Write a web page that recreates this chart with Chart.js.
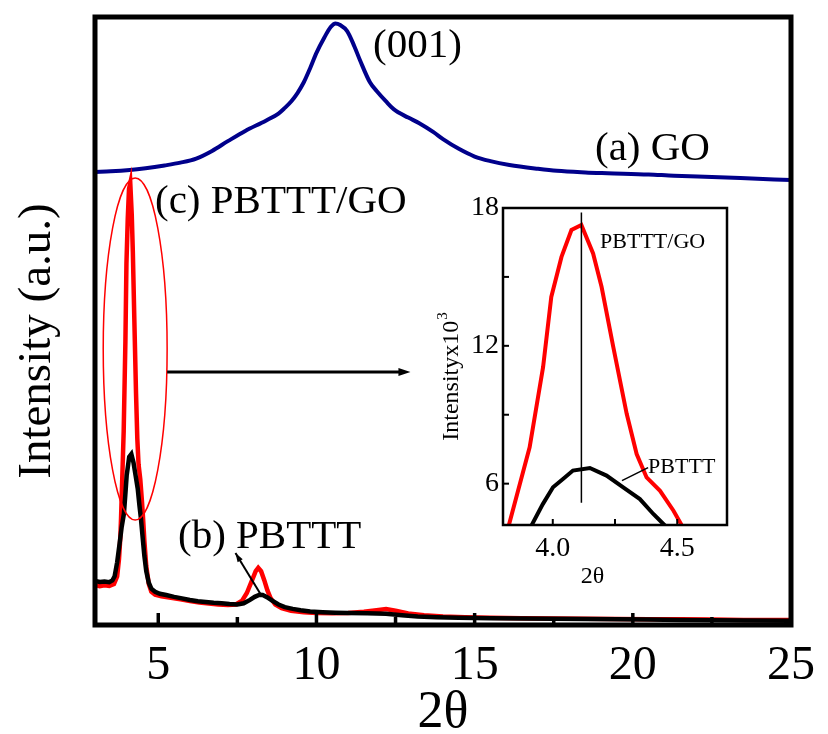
<!DOCTYPE html>
<html>
<head>
<meta charset="utf-8">
<script src="https://cdn.jsdelivr.net/npm/chart.js@4.4.0/dist/chart.umd.min.js"></script>
<style>
  html, body { margin: 0; padding: 0; background: #fff; }
  #wrap { position: relative; width: 828px; height: 734px; }
  #xrd { position: absolute; left: 0; top: 0; }
  #zoom { position: absolute; left: 420px; top: 180px; }
</style>
</head>
<body>
<div id="wrap">
  <canvas id="xrd" width="828" height="734"></canvas>
  <canvas id="zoom" width="320" height="420"></canvas>
</div>
<script>
// XRD patterns, intensity in counts x10^3 (GO trace is stacked above the others)
const goTheta = [3.0, 3.5, 4.1, 4.6, 5.2, 5.7, 6.2, 6.7, 7.2, 7.75, 8.4, 8.8, 9.0, 9.2, 9.4, 9.6, 9.8, 10.0, 10.25, 10.45, 10.6, 10.75, 10.97, 11.2, 11.38, 11.69, 11.91, 12.2, 12.44, 12.9, 13.25, 13.7, 14.0, 14.5, 15.0, 15.5, 16.1, 17.0, 17.6, 18.5, 19.2, 20.5, 21.3, 22.5, 23.4, 25.0];
const goIntensity = [17.70, 17.72, 17.77, 17.84, 17.95, 18.06, 18.22, 18.52, 18.9, 19.3, 19.7, 19.98, 20.2, 20.45, 20.78, 21.2, 21.75, 22.35, 22.95, 23.36, 23.5, 23.44, 23.2, 22.6, 22.05, 21.2, 20.85, 20.45, 20.15, 19.82, 19.6, 19.25, 18.98, 18.6, 18.3, 18.12, 17.97, 17.82, 17.74, 17.68, 17.65, 17.6, 17.55, 17.5, 17.46, 17.38];

const pbtttTheta = [3.0, 3.15, 3.3, 3.45, 3.55, 3.62, 3.7, 3.78, 3.84, 3.914, 3.96, 4.001, 4.041, 4.081, 4.149, 4.216, 4.283, 4.35, 4.404, 4.451, 4.5, 4.56, 4.62, 4.7, 4.78, 4.9, 5.05, 5.25, 5.5, 5.75, 6.0, 6.25, 6.5, 6.75, 7.0, 7.25, 7.5, 7.7, 7.9, 8.05, 8.2, 8.3, 8.45, 8.6, 8.8, 9.0, 9.25, 9.5, 9.8, 10.2, 10.6, 11.0, 11.6, 12.2, 12.7, 13.2, 13.8, 14.5, 15.5, 16.5, 17.5, 18.5, 19.5, 20.5, 21.5, 22.5, 23.5, 25.0];
const pbtttIntensity = [1.72, 1.68, 1.70, 1.67, 1.74, 1.9, 2.45, 3.2, 3.8, 4.35, 5.11, 5.84, 6.2, 6.57, 6.68, 6.35, 5.84, 5.33, 4.68, 4.17, 3.5, 2.7, 2.1, 1.65, 1.42, 1.3, 1.22, 1.17, 1.1, 1.04, 0.98, 0.93, 0.9, 0.87, 0.85, 0.82, 0.8, 0.85, 0.98, 1.1, 1.18, 1.17, 1.08, 0.95, 0.8, 0.7, 0.63, 0.58, 0.53, 0.5, 0.48, 0.47, 0.46, 0.44, 0.38, 0.33, 0.3, 0.28, 0.26, 0.25, 0.24, 0.23, 0.22, 0.21, 0.2, 0.19, 0.18, 0.17];

const compTheta = [3.0, 3.15, 3.3, 3.45, 3.6, 3.7, 3.76, 3.8, 3.823, 3.907, 3.961, 3.994, 4.035, 4.075, 4.115, 4.162, 4.196, 4.243, 4.297, 4.337, 4.377, 4.431, 4.485, 4.519, 4.56, 4.62, 4.7, 4.78, 4.9, 5.1, 5.4, 5.7, 6.0, 6.3, 6.6, 6.9, 7.2, 7.45, 7.65, 7.8, 7.95, 8.08, 8.16, 8.25, 8.35, 8.45, 8.55, 8.7, 8.9, 9.2, 9.6, 10.0, 10.5, 11.0, 11.5, 11.9, 12.2, 12.5, 12.9, 13.4, 14.0, 14.7, 15.5, 16.5, 17.5, 18.5, 19.5, 20.5, 21.5, 22.5, 23.5, 25.0];
const compIntensity = [1.56, 1.52, 1.55, 1.53, 1.6, 1.9, 2.6, 3.4, 4.17, 7.58, 11.07, 14.13, 15.87, 17.04, 17.26, 16.02, 14.57, 11.95, 9.04, 7.29, 6.27, 5.69, 4.82, 4.17, 3.3, 2.3, 1.6, 1.3, 1.18, 1.12, 1.06, 1.0, 0.94, 0.88, 0.84, 0.8, 0.78, 0.8, 0.95, 1.25, 1.7, 2.1, 2.23, 2.1, 1.75, 1.35, 1.05, 0.8, 0.66, 0.56, 0.5, 0.47, 0.46, 0.47, 0.52, 0.58, 0.62, 0.56, 0.45, 0.38, 0.33, 0.3, 0.28, 0.26, 0.25, 0.24, 0.23, 0.22, 0.22, 0.21, 0.2, 0.2];

const xTicks = [5, 10, 15, 20, 25];
const xMinorTicks = [7.5, 12.5, 17.5, 22.5];

// zoom on the low-angle reflection
const zoomCompTheta = [3.8, 3.823, 3.907, 3.961, 3.994, 4.035, 4.075, 4.115, 4.162, 4.196, 4.243, 4.297, 4.337, 4.377, 4.431, 4.485, 4.519, 4.54];
const zoomCompIntensity = [3.3, 4.17, 7.58, 11.07, 14.13, 15.87, 17.04, 17.26, 16.02, 14.57, 11.95, 9.04, 7.29, 6.27, 5.69, 4.82, 4.17, 3.7];
const zoomPbtttTheta = [3.89, 3.914, 3.96, 4.001, 4.041, 4.081, 4.149, 4.216, 4.283, 4.35, 4.404, 4.451, 4.47];
const zoomPbtttIntensity = [3.7, 4.17, 5.11, 5.84, 6.2, 6.57, 6.68, 6.35, 5.84, 5.33, 4.68, 4.17, 3.9];
const zoomXTicks = [4.0, 4.5];
const zoomXMinor = [4.25];
const zoomYTicks = [6, 12, 18];
const zoomYMinor = [9, 15];
const peakTheta = 4.115;

const SERIF = '"Liberation Serif", "Times New Roman", serif';
const pts = (xs, ys) => xs.map((x, i) => ({ x: x, y: ys[i] }));

function arrowHead(ctx, x0, y0, x1, y1, len, half) {
  const a = Math.atan2(y1 - y0, x1 - x0);
  ctx.beginPath();
  ctx.moveTo(x1, y1);
  ctx.lineTo(x1 - len * Math.cos(a) + half * Math.sin(a), y1 - len * Math.sin(a) - half * Math.cos(a));
  ctx.lineTo(x1 - len * Math.cos(a) - half * Math.sin(a), y1 - len * Math.sin(a) + half * Math.cos(a));
  ctx.closePath();
  ctx.fill();
}

const mainDecor = {
  id: 'mainDecor',
  afterDatasetsDraw(chart) {
    const { ctx, chartArea: a, scales: { x, y } } = chart;
    ctx.save();
    ctx.strokeStyle = '#000';
    ctx.fillStyle = '#000';

    // frame
    ctx.lineWidth = 5;
    ctx.strokeRect(a.left, a.top, a.right - a.left, a.bottom - a.top);

    // inward ticks on the 2θ axis
    ctx.lineWidth = 3.5;
    const tick = (v, len) => {
      const px = x.getPixelForValue(v);
      ctx.beginPath();
      ctx.moveTo(px, a.bottom);
      ctx.lineTo(px, a.bottom - len);
      ctx.stroke();
    };
    xTicks.forEach(v => tick(v, 12));
    xMinorTicks.forEach(v => tick(v, 8));

    // ellipse around the PBTTT/GO peak
    const cx = x.getPixelForValue(4.27);
    const rx = x.getPixelForValue(5.28) - cx;
    const cy = y.getPixelForValue(10.78);
    const ry = y.getPixelForValue(4.1) - cy;
    ctx.strokeStyle = '#f00';
    ctx.lineWidth = 1.5;
    ctx.beginPath();
    ctx.ellipse(cx, cy, rx, ry, 0, 0, Math.PI * 2);
    ctx.stroke();

    // arrow pointing to the zoom panel
    ctx.strokeStyle = '#000';
    ctx.lineWidth = 3;
    const ax0 = x.getPixelForValue(5.28), ax1 = x.getPixelForValue(12.97), ay = y.getPixelForValue(9.88);
    ctx.beginPath();
    ctx.moveTo(ax0, ay);
    ctx.lineTo(ax1 - 8, ay);
    ctx.stroke();
    arrowHead(ctx, ax0, ay, ax1, ay, 12, 4);

    // pointer for the PBTTT trace
    const px0 = x.getPixelForValue(8.25), py0 = y.getPixelForValue(1.17);
    const px1 = x.getPixelForValue(7.44), py1 = y.getPixelForValue(2.81);
    ctx.lineWidth = 2;
    ctx.beginPath();
    ctx.moveTo(px0, py0);
    ctx.lineTo(px1, py1);
    ctx.stroke();
    arrowHead(ctx, px0, py0, px1, py1, 9, 3);

    // labels
    ctx.font = '41px ' + SERIF;
    ctx.textAlign = 'left';
    ctx.textBaseline = 'alphabetic';
    ctx.fillText('(001)', 373, 57);
    ctx.fillText('(a) GO', 595, 160);
    ctx.fillText('(c) PBTTT/GO', 155, 213);
    ctx.fillText('(b) PBTTT', 178, 548);

    // y axis title
    ctx.save();
    ctx.translate(38, 341);
    ctx.rotate(-Math.PI / 2);
    ctx.font = '47px ' + SERIF;
    ctx.textAlign = 'center';
    ctx.textBaseline = 'middle';
    ctx.fillText('Intensity (a.u.)', 0, 0);
    ctx.restore();

    ctx.restore();
  }
};

new Chart(document.getElementById('xrd'), {
  type: 'line',
  data: {
    datasets: [
      { label: '(b) PBTTT', data: pts(pbtttTheta, pbtttIntensity), borderColor: '#000', borderWidth: 4.5, pointRadius: 0, tension: 0 },
      { label: '(c) PBTTT/GO', data: pts(compTheta, compIntensity), borderColor: '#f00', borderWidth: 4.5, pointRadius: 0, tension: 0 },
      { label: '(a) GO', data: pts(goTheta, goIntensity), borderColor: '#00008b', borderWidth: 4, pointRadius: 0, cubicInterpolationMode: 'monotone' }
    ]
  },
  options: {
    responsive: false,
    animation: false,
    events: [],
    layout: { padding: { top: 17, right: 28, left: 0, bottom: 0 } },
    plugins: { legend: { display: false }, tooltip: { enabled: false } },
    scales: {
      x: {
        type: 'linear', min: 3, max: 25,
        afterBuildTicks: s => { s.ticks = xTicks.map(v => ({ value: v })); },
        afterFit: s => { s.height = 109; },
        grid: { display: false, drawTicks: false },
        border: { display: false },
        ticks: { font: { family: SERIF, size: 48 }, color: '#000', padding: 13, maxRotation: 0, autoSkip: false },
        title: { display: true, text: '2θ', color: '#000', font: { family: SERIF, size: 52, lineHeight: 0.8 }, padding: 0 }
      },
      y: {
        min: 0, max: 23.75,
        afterFit: s => { s.width = 95; },
        ticks: { display: false },
        grid: { display: false, drawTicks: false },
        border: { display: false }
      }
    }
  },
  plugins: [mainDecor]
});

const zoomDecor = {
  id: 'zoomDecor',
  afterDatasetsDraw(chart) {
    const { ctx, chartArea: a, scales: { x, y } } = chart;
    ctx.save();
    ctx.strokeStyle = '#000';
    ctx.fillStyle = '#000';
    ctx.lineWidth = 2.5;
    ctx.strokeRect(a.left, a.top, a.right - a.left, a.bottom - a.top);

    ctx.lineWidth = 2;
    [...zoomXTicks, ...zoomXMinor].forEach(v => {
      const px = x.getPixelForValue(v);
      ctx.beginPath();
      ctx.moveTo(px, a.bottom);
      ctx.lineTo(px, a.bottom - 6);
      ctx.stroke();
    });
    [...zoomYTicks, ...zoomYMinor].forEach(v => {
      const py = y.getPixelForValue(v);
      ctx.beginPath();
      ctx.moveTo(a.left, py);
      ctx.lineTo(a.left + 6, py);
      ctx.stroke();
    });

    // peak position marker
    ctx.lineWidth = 1.5;
    const mx = x.getPixelForValue(peakTheta);
    ctx.beginPath();
    ctx.moveTo(mx, y.getPixelForValue(17.8));
    ctx.lineTo(mx, y.getPixelForValue(5.17));
    ctx.stroke();

    // PBTTT pointer
    ctx.beginPath();
    ctx.moveTo(x.getPixelForValue(4.278), y.getPixelForValue(6.13));
    ctx.lineTo(x.getPixelForValue(4.383), y.getPixelForValue(6.7));
    ctx.stroke();

    ctx.font = '22px ' + SERIF;
    ctx.textAlign = 'left';
    ctx.textBaseline = 'alphabetic';
    ctx.fillText('PBTTT/GO', x.getPixelForValue(4.19), y.getPixelForValue(16.25));
    ctx.fillText('PBTTT', x.getPixelForValue(4.383), y.getPixelForValue(6.48));

    // axis titles
    ctx.font = '24px ' + SERIF;
    ctx.textAlign = 'center';
    ctx.textBaseline = 'middle';
    ctx.fillText('2θ', x.getPixelForValue(4.16), 397);

    ctx.save();
    ctx.translate(32, 197);
    ctx.rotate(-Math.PI / 2);
    ctx.font = '24px ' + SERIF;
    const main = 'Intensityx10';
    const w = ctx.measureText(main).width;
    ctx.font = '15px ' + SERIF;
    const ws = ctx.measureText('3').width;
    const start = -(w + ws) / 2;
    ctx.textAlign = 'left';
    ctx.font = '24px ' + SERIF;
    ctx.fillText(main, start, 0);
    ctx.font = '15px ' + SERIF;
    ctx.fillText('3', start + w + 1, -9);
    ctx.restore();

    ctx.restore();
  }
};

new Chart(document.getElementById('zoom'), {
  type: 'line',
  data: {
    datasets: [
      { label: 'PBTTT', data: pts(zoomPbtttTheta, zoomPbtttIntensity), borderColor: '#000', borderWidth: 4, pointRadius: 0, tension: 0 },
      { label: 'PBTTT/GO', data: pts(zoomCompTheta, zoomCompIntensity), borderColor: '#f00', borderWidth: 4, pointRadius: 0, tension: 0 }
    ]
  },
  options: {
    responsive: false,
    animation: false,
    events: [],
    layout: { padding: { top: 28, right: 13, left: 0, bottom: 0 } },
    plugins: { legend: { display: false }, tooltip: { enabled: false } },
    scales: {
      x: {
        type: 'linear', min: 3.8, max: 4.7,
        afterBuildTicks: s => { s.ticks = zoomXTicks.map(v => ({ value: v })); },
        afterFit: s => { s.height = 75; },
        grid: { display: false, drawTicks: false },
        border: { display: false },
        ticks: { font: { family: SERIF, size: 28 }, color: '#000', padding: 7, maxRotation: 0, autoSkip: false, callback: v => v.toFixed(1) }
      },
      y: {
        min: 4.2, max: 18,
        afterBuildTicks: s => { s.ticks = zoomYTicks.map(v => ({ value: v })); },
        afterFit: s => { s.width = 83; },
        grid: { display: false, drawTicks: false },
        border: { display: false },
        ticks: { font: { family: SERIF, size: 28 }, color: '#000', padding: 4, autoSkip: false }
      }
    }
  },
  plugins: [zoomDecor]
});
</script>
</body>
</html>
